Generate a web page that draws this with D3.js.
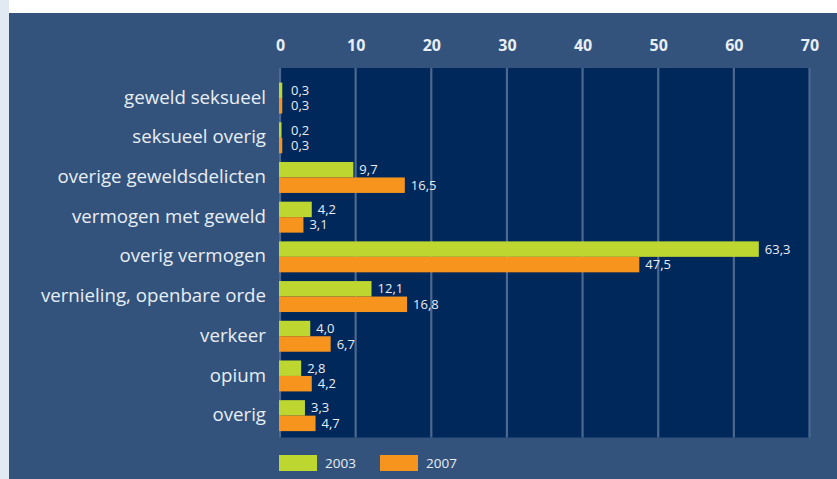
<!DOCTYPE html>
<html><head><meta charset="utf-8">
<script src="https://cdn.jsdelivr.net/npm/d3@7"></script>
<style>
html,body{margin:0;padding:0;background:#fff;}
svg{display:block;}
</style></head>
<body>
<svg id="chart" width="837" height="479"></svg>
<script>
const categories = ["geweld seksueel","seksueel overig","overige geweldsdelicten","vermogen met geweld","overig vermogen","vernieling, openbare orde","verkeer","opium","overig"];
const seriesNames = ["2003","2007"];
const values2003 = [0.3,0.2,9.7,4.2,63.3,12.1,4.0,2.8,3.3];
const values2007 = [0.3,0.3,16.5,3.1,47.5,16.8,6.7,4.2,4.7];
const tickValues = [0,10,20,30,40,50,60,70];
const colors = ["#bed630","#f7941d"];

const svg = d3.select("#chart");
const W = 837, H = 479;
const font = "'Open Sans', 'DejaVu Sans', sans-serif";
const textCol = "#e8eef6";

svg.append("rect").attr("x",0).attr("y",0).attr("width",W).attr("height",H).attr("fill","#ffffff");
svg.append("rect").attr("x",0).attr("y",0).attr("width",9).attr("height",H).attr("fill","#e1eaf2");
svg.append("rect").attr("x",9).attr("y",13).attr("width",W-9).attr("height",H-13).attr("fill","#33537c");

const x = d3.scaleLinear().domain([0,70]).range([280,809.5]);
const y = d3.scaleBand().domain(categories).range([78.2,435.5]).paddingInner(0.22).paddingOuter(0.11);
const ySub = d3.scaleBand().domain(seriesNames).range([0,y.bandwidth()]);

const plotTop = 68, plotBottom = 437.5;
svg.append("rect").attr("x",x(0)).attr("y",plotTop).attr("width",x(70)-x(0)).attr("height",plotBottom-plotTop).attr("fill","#00285a");

svg.append("g").selectAll("line").data(tickValues).join("line")
  .attr("x1",d=>x(d)).attr("x2",d=>x(d)).attr("y1",plotTop).attr("y2",plotBottom)
  .attr("stroke","#4b6890").attr("stroke-width",2.2);

const axis = d3.axisTop(x).tickValues(tickValues).tickSize(0).tickPadding(0).tickFormat(d3.format("d"));
const gAxis = svg.append("g").attr("transform","translate(0,51)").call(axis);
gAxis.select(".domain").remove();
gAxis.selectAll("text").attr("font-family",font).attr("font-weight","bold").attr("font-size","16px").attr("fill",textCol);

const yAxis = d3.axisLeft(y).tickSize(0).tickPadding(0);
const gY = svg.append("g").attr("transform","translate(266,0)").call(yAxis);
gY.select(".domain").remove();
gY.selectAll("text").attr("font-family",font).attr("font-size","18.7px").attr("fill",textCol).attr("dy","0.3em");

const data = categories.map((c,i)=>({cat:c, vals:[{s:"2003",v:values2003[i]},{s:"2007",v:values2007[i]}]}));
const groups = svg.append("g").selectAll("g").data(data).join("g")
  .attr("transform",d=>`translate(0,${y(d.cat)})`);
groups.selectAll("rect").data(d=>d.vals).join("rect")
  .attr("x",x(0)-1).attr("y",d=>ySub(d.s)).attr("height",ySub.bandwidth())
  .attr("width",d=>x(d.v)-x(0)+1)
  .attr("fill",(d,i)=>colors[i]);
const fmt = v => d3.format(".1f")(v).replace(".",",");
groups.selectAll("text").data(d=>d.vals).join("text")
  .attr("x",d=>Math.max(x(d.v)+6, x(0)+11)).attr("y",d=>ySub(d.s)+ySub.bandwidth()/2)
  .attr("dy","0.35em")
  .attr("font-family",font).attr("font-size","13px").attr("fill",textCol)
  .text(d=>fmt(d.v));

const legend = svg.append("g").selectAll("g").data(seriesNames).join("g")
  .attr("transform",(d,i)=>`translate(${279+i*101},455)`);
legend.append("rect").attr("width",38).attr("height",16).attr("fill",(d,i)=>colors[i]);
legend.append("text").attr("x",46).attr("y",8).attr("dy","0.35em")
  .attr("font-family",font).attr("font-size","13.5px").attr("fill",textCol).text(d=>d);
</script>
</body></html>
